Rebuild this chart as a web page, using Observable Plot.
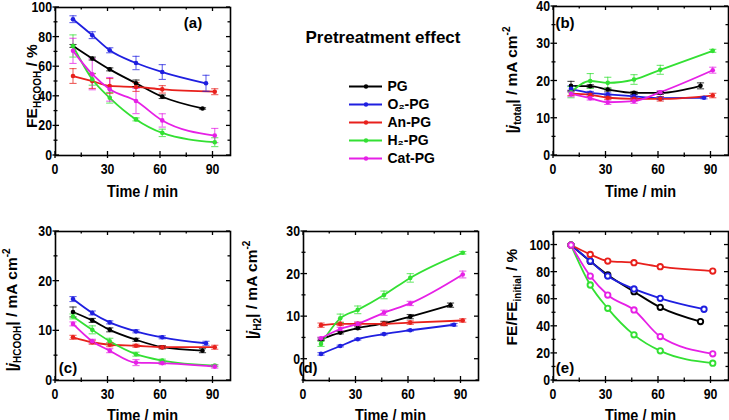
<!DOCTYPE html>
<html><head><meta charset="utf-8">
<script src="https://cdn.jsdelivr.net/npm/d3@7"></script>
<script src="https://cdn.jsdelivr.net/npm/@observablehq/plot@0.6"></script>
<style>
html,body{margin:0;padding:0;background:#fff;}
#fig{position:relative;width:729px;height:420px;overflow:hidden;background:#fff;}
#fig svg{position:absolute;max-width:none;}
</style></head><body><div id="fig"></div>
<script>
// ---------- data ----------
const seriesNames = ["PG", "O2-PG", "An-PG", "H2-PG", "Cat-PG"];
const legendLabels = ["PG", "O₂-PG", "An-PG", "H₂-PG", "Cat-PG"];
const seriesColors = ["#000000", "#1f1fe0", "#e8201c", "#33e033", "#e620e6"];
const timePG = [10, 21, 31, 46, 61, 84];
const timeO2 = [10, 21, 31, 46, 61, 86];
const timeAn = [10, 21, 31, 46, 61, 91];
const timeH2 = [10, 21, 31, 46, 61, 91];
const timeCat = [10, 21, 31, 46, 61, 91];
const xLabelTicks = [0, 30, 60, 90];
const xMinorTicks = [15, 45, 75];

// (a) FE HCOOH / %
const feHCOOH_PG = [74, 65.5, 58.2, 48.8, 39.7, 31.8];
const feHCOOH_O2 = [92.1, 81.3, 71.1, 62.5, 56.4, 48.8];
const feHCOOH_An = [53.7, 50.3, 47, 46.3, 44.7, 43.1];
const feHCOOH_H2 = [74, 51.5, 39, 24.4, 15.3, 9];
const feHCOOH_Cat = [70.7, 54.9, 44.7, 36.8, 23.7, 13.5];
const feHCOOH_PG_err = [1, 1, 1, 2.2, 1.2, 0.5];
const feHCOOH_O2_err = [2.3, 2.3, 1.7, 4.5, 5, 5.4];
const feHCOOH_An_err = [5, 5, 5, 3, 2.5, 2];
const feHCOOH_H2_err = [7.5, 4, 3.6, 1, 2.5, 3];
const feHCOOH_Cat_err = [8.5, 10.5, 8, 8.5, 4.5, 4.8];

// (b) |j total| / mA cm-2
const jTotal_PG = [18.7, 18.6, 17.7, 16.8, 16.8, 18.7];
const jTotal_O2 = [17.9, 16.8, 16.4, 15.9, 15.4, 15.5];
const jTotal_An = [16.6, 16.3, 15.5, 15.2, 15.2, 16.1];
const jTotal_H2 = [17.0, 20.0, 19.5, 20.4, 23.0, 28.1];
const jTotal_Cat = [16.6, 15.4, 14.3, 14.6, 17.0, 22.9];
const jTotal_PG_err = [1.2, 0.4, 0.4, 0.4, 0.4, 0.8];
const jTotal_O2_err = [0.8, 0.4, 0.4, 0.4, 0.4, 0.3];
const jTotal_An_err = [0.5, 0.4, 0.4, 0.4, 0.6, 0.6];
const jTotal_H2_err = [1.5, 2, 1.5, 1.3, 1.2, 0.4];
const jTotal_Cat_err = [0.8, 0.5, 0.6, 0.6, 0.4, 0.8];

// (c) |j HCOOH| / mA cm-2
const jHCOOH_PG = [13.8, 12.1, 10.2, 8.2, 6.7, 6.0];
const jHCOOH_O2 = [16.4, 13.6, 11.7, 9.9, 8.7, 7.5];
const jHCOOH_An = [8.7, 7.7, 7.2, 7.0, 6.7, 6.7];
const jHCOOH_H2 = [12.9, 10.2, 7.9, 5.3, 4.0, 3.0];
const jHCOOH_Cat = [11.4, 7.9, 6.0, 3.6, 3.5, 2.8];
const jHCOOH_PG_err = [1, 0.4, 0.4, 0.3, 0.3, 0.4];
const jHCOOH_O2_err = [0.5, 0.4, 0.3, 0.3, 0.3, 0.4];
const jHCOOH_An_err = [0.4, 0.4, 0.4, 0.3, 0.3, 0.4];
const jHCOOH_H2_err = [0.5, 0.8, 0.6, 0.4, 0.3, 0.2];
const jHCOOH_Cat_err = [0.4, 0.4, 0.4, 0.6, 0.3, 0.3];

// (d) |j H2| / mA cm-2
const jH2_PG = [4.7, 6.25, 7.3, 8.4, 10.0, 12.7];
const jH2_O2 = [1.25, 3.1, 4.7, 5.9, 6.8, 8.1];
const jH2_An = [8.0, 8.3, 8.3, 8.3, 8.6, 9.1];
const jH2_H2 = [3.6, 9.6, 11.6, 15.1, 19.1, 25.0];
const jH2_Cat = [4.9, 7.1, 8.3, 10.9, 13.1, 19.9];
const jH2_PG_err = [0.3, 0.3, 0.3, 0.5, 0.5, 0.5];
const jH2_O2_err = [0.3, 0.2, 0.2, 0.2, 0.2, 0.3];
const jH2_An_err = [0.5, 0.4, 0.4, 0.4, 0.4, 0.4];
const jH2_H2_err = [0.6, 1, 0.9, 0.9, 1, 0.3];
const jH2_Cat_err = [0.3, 0.4, 0.4, 0.6, 0.5, 0.8];

// (e) FE/FE initial / %
const feRel_PG = [100, 88, 77.9, 65.6, 54.0, 43.5];
const feRel_O2 = [100, 88.2, 77.1, 67.6, 60.7, 52.6];
const feRel_An = [100, 93.1, 88.2, 87.0, 84.0, 80.8];
const feRel_H2 = [100, 70.5, 53.3, 33.7, 21.9, 12.8];
const feRel_Cat = [100, 77.1, 63.1, 52.1, 32.4, 19.7];

// ---------- drawing ----------
const seriesTimes = [timePG, timeO2, timeAn, timeH2, timeCat];
const textFont = "'Liberation Sans', Arial, sans-serif";
const fig = document.getElementById("fig");
const capSymbol = {draw(ctx, size) { const w = Math.sqrt(size / Math.PI); ctx.moveTo(-w, 0); ctx.lineTo(w, 0); }};

function yTitle(svg, bx, cy, parts) {
  const t = svg.append("text")
    .attr("transform", `translate(${bx},${cy}) rotate(-90)`)
    .attr("text-anchor", "middle")
    .attr("font-family", textFont).attr("font-weight", "bold").attr("font-size", 15.5).attr("fill", "black");
  let shift = 0;
  for (const [s, kind] of parts) {
    const sp = t.append("tspan").text(s);
    let target = 0;
    if (kind === "sub") { sp.attr("font-size", 10); target = 4; }
    else if (kind === "sup") { sp.attr("font-size", 10); target = -7; }
    else if (kind === "it") { sp.attr("font-style", "italic"); }
    if (target - shift !== 0) sp.attr("dy", target - shift);
    shift = target;
  }
}

function label(svg, x, y, s, anchor, size, sx) {
  return svg.append("text")
    .attr("transform", `translate(${x},${y}) scale(${sx},1)`)
    .attr("text-anchor", anchor)
    .attr("font-family", textFont).attr("font-weight", "bold").attr("font-size", size).attr("fill", "black")
    .text(s);
}

function drawPanel(o) {
  const rows = [];
  o.values.forEach((vals, i) => vals.forEach((v, j) => rows.push({
    name: seriesNames[i], t: seriesTimes[i][j], v, e: o.errors ? o.errors[i][j] : 0
  })));
  const marks = [Plot.line(rows, {x: "t", y: "v", z: "name", stroke: "name", curve: "monotone-x", strokeWidth: 1.8})];
  if (o.errors) {
    const er = rows.filter(d => d.e > 0);
    const eo = {stroke: "name", strokeWidth: 1.1, strokeOpacity: 0.7};
    marks.push(Plot.ruleX(er, {x: "t", y1: d => d.v - d.e, y2: d => d.v + d.e, ...eo}));
    marks.push(Plot.dot(er, {x: "t", y: d => d.v + d.e, symbol: capSymbol, r: 3.6, fill: "none", ...eo}));
    marks.push(Plot.dot(er, {x: "t", y: d => d.v - d.e, symbol: capSymbol, r: 3.6, fill: "none", ...eo}));
  }
  marks.push(o.ring
    ? Plot.dot(rows, {x: "t", y: "v", r: 2.7, stroke: "name", fill: "white", strokeWidth: 1.9})
    : Plot.dot(rows, {x: "t", y: "v", r: 2.3, fill: "name"}));
  marks.push(Plot.frame({stroke: "black", strokeWidth: 1.6}));
  const plot = Plot.plot({
    width: o.width, height: o.height,
    marginLeft: o.ml, marginRight: o.mr, marginTop: o.mt, marginBottom: o.mb,
    x: {domain: [0, 100], axis: null},
    y: {domain: o.yDomain, axis: null},
    color: {domain: seriesNames, range: seriesColors},
    style: {fontFamily: textFont, background: "transparent", color: "black", overflow: "visible"},
    marks
  });
  plot.style.left = o.left + "px";
  plot.style.top = o.top + "px";
  fig.appendChild(plot);

  const sx = plot.scale("x"), sy = plot.scale("y");
  const X = sx.apply ? v => sx.apply(v) : d3.scaleLinear(sx.domain, sx.range);
  const Y = sy.apply ? v => sy.apply(v) : d3.scaleLinear(sy.domain, sy.range);
  const [xl, xr] = sx.range, [yb, yt] = sy.range;
  const svg = d3.select(plot);
  const g = svg.append("g").attr("stroke", "black").attr("stroke-width", 1.3);
  const seg = (x1, y1, x2, y2) => g.append("line").attr("x1", x1).attr("y1", y1).attr("x2", x2).attr("y2", y2);
  for (const v of xLabelTicks) { const x = X(v); seg(x, yb + 3, x, yb - 4); seg(x, yt, x, yt + 4); }
  for (const v of xMinorTicks) { const x = X(v); seg(x, yb + 2, x, yb - 2.5); seg(x, yt, x, yt + 2.5); }
  for (const v of o.yMajor) { const y = Y(v); seg(xl - 2.5, y, xl + 4, y); seg(xr - 4, y, xr, y); }
  for (const v of o.yMinor) { const y = Y(v); seg(xl - 1.5, y, xl + 2.5, y); seg(xr - 2.5, y, xr, y); }

  // tick labels placed with the plot's scales
  for (const v of xLabelTicks) label(svg, X(v), yb + 18.5, String(v), "middle", 14, 0.88);
  for (const v of o.yLabels) label(svg, xl - 3, Y(v) + 5, String(v), "end", 14, 0.88);

  yTitle(svg, o.yt[0], o.yt[1], o.yParts);
  label(svg, (xl + xr) / 2, o.xTitleY, "Time / min", "middle", 17, 0.85);
  svg.append("text").attr("x", o.letter[0]).attr("y", o.letter[1])
    .attr("font-family", textFont).attr("font-weight", "bold").attr("font-size", 15).attr("fill", "black")
    .text(o.letterText);
}

const jUnit = [["| / mA cm"], ["-2", "sup"]];

drawPanel({
  left: 0, top: 0, width: 240, height: 210, ml: 55, mr: 10, mt: 7, mb: 55,
  yDomain: [0, 100], yLabels: [0, 20, 40, 60, 80, 100], yMajor: [0, 20, 40, 60, 80, 100], yMinor: [10, 30, 50, 70, 90],
  values: [feHCOOH_PG, feHCOOH_O2, feHCOOH_An, feHCOOH_H2, feHCOOH_Cat],
  errors: [feHCOOH_PG_err, feHCOOH_O2_err, feHCOOH_An_err, feHCOOH_H2_err, feHCOOH_Cat_err],
  yt: [37, 86], yParts: [["FE"], ["HCOOH", "sub"], [" / %"]],
  xTitleY: 197, letter: [193, 28], letterText: "(a)"
});
drawPanel({
  left: 490, top: 0, width: 239, height: 210, ml: 63, mr: 1, mt: 6, mb: 55,
  yDomain: [0, 40], yLabels: [0, 10, 20, 30, 40], yMajor: [0, 10, 20, 30, 40], yMinor: [5, 15, 25, 35],
  values: [jTotal_PG, jTotal_O2, jTotal_An, jTotal_H2, jTotal_Cat],
  errors: [jTotal_PG_err, jTotal_O2_err, jTotal_An_err, jTotal_H2_err, jTotal_Cat_err],
  yt: [27, 80], yParts: [["|"], ["j", "it"], ["total", "sub"], ...jUnit],
  xTitleY: 197, letter: [75, 28], letterText: "(b)"
});
drawPanel({
  left: 0, top: 210, width: 240, height: 210, ml: 55, mr: 10, mt: 21, mb: 40,
  yDomain: [0, 30], yLabels: [0, 10, 20, 30], yMajor: [0, 10, 20, 30], yMinor: [5, 15, 25],
  values: [jHCOOH_PG, jHCOOH_O2, jHCOOH_An, jHCOOH_H2, jHCOOH_Cat],
  errors: [jHCOOH_PG_err, jHCOOH_O2_err, jHCOOH_An_err, jHCOOH_H2_err, jHCOOH_Cat_err],
  yt: [17, 100], yParts: [["|"], ["j", "it"], ["HCOOH", "sub"], ...jUnit],
  xTitleY: 211, letter: [68, 163], letterText: "(c)"
});
drawPanel({
  left: 245, top: 210, width: 240, height: 210, ml: 58, mr: 7, mt: 21, mb: 40,
  yDomain: [-5, 30], yLabels: [0, 10, 20, 30], yMajor: [0, 10, 20, 30], yMinor: [-5, 5, 15, 25],
  values: [jH2_PG, jH2_O2, jH2_An, jH2_H2, jH2_Cat],
  errors: [jH2_PG_err, jH2_O2_err, jH2_An_err, jH2_H2_err, jH2_Cat_err],
  yt: [12, 80], yParts: [["|"], ["j", "it"], ["H2", "sub"], ...jUnit],
  xTitleY: 211, letter: [63, 163], letterText: "(d)"
});
drawPanel({
  left: 490, top: 210, width: 239, height: 210, ml: 63, mr: 1, mt: 21, mb: 40,
  yDomain: [0, 110], yLabels: [0, 20, 40, 60, 80, 100], yMajor: [0, 20, 40, 60, 80, 100], yMinor: [10, 30, 50, 70, 90],
  values: [feRel_PG, feRel_O2, feRel_An, feRel_H2, feRel_Cat],
  errors: null, ring: true,
  yt: [27, 87], yParts: [["FE/FE"], ["initial", "sub"], [" / %"]],
  xTitleY: 211, letter: [75, 163], letterText: "(e)"
});

// ---------- legend + title ----------
const legend = Plot.plot({
  width: 250, height: 210, margin: 0,
  x: {domain: [0, 1], range: [109, 142], axis: null},
  y: {type: "point", domain: seriesNames, range: [85.7, 158.3], padding: 0, axis: null},
  color: {domain: seriesNames, range: seriesColors},
  style: {fontFamily: textFont, fontSize: "14px", fontWeight: "bold", background: "transparent", color: "black", overflow: "visible"},
  marks: [
    Plot.ruleY(seriesNames, {y: d => d, x1: 0, x2: 1, stroke: d => d, strokeWidth: 2}),
    Plot.dot(seriesNames, {x: 0.5, y: d => d, fill: d => d, r: 2.2}),
    Plot.text(seriesNames, {x: 1, y: d => d, dx: 5, text: (d, i) => legendLabels[i], textAnchor: "start", fill: "black", fontSize: 14, fontWeight: "bold"})
  ]
});
legend.style.left = "240px";
legend.style.top = "0px";
fig.appendChild(legend);
d3.select(legend).append("text").attr("x", 143).attr("y", 43).attr("text-anchor", "middle")
  .attr("font-family", textFont).attr("font-weight", "bold").attr("font-size", 17).attr("fill", "black")
  .text("Pretreatment effect");
</script>
</body></html>
